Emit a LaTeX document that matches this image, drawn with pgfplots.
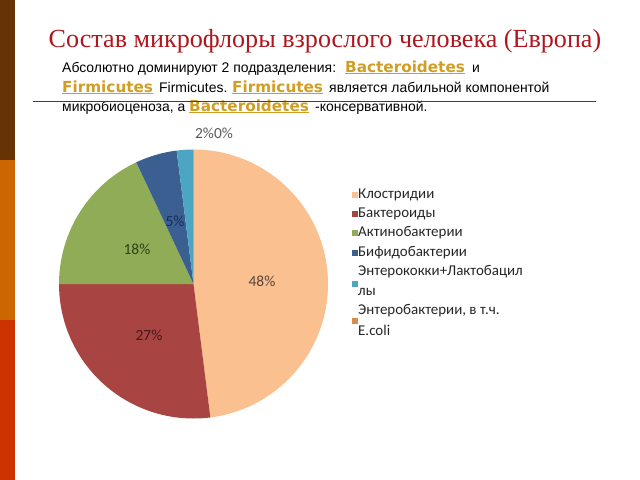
\documentclass[border=0pt]{standalone}
\usepackage{pgfplots}
\pgfplotsset{compat=1.18}
\usepackage{pgfplotstable}
\usepackage{fontspec}
\setmainfont{Carlito}
\newfontfamily\titlefont{Liberation Serif}
\newfontfamily\subfont{Liberation Sans}
\newfontfamily\goldfont{DejaVu Sans}
\definecolor{barbrown}{RGB}{102,52,4}
\definecolor{barorange}{RGB}{204,102,0}
\definecolor{barred}{RGB}{204,51,0}
\definecolor{titlered}{RGB}{176,22,30}
\definecolor{gold}{RGB}{208,158,36}
\definecolor{cA}{RGB}{250,192,144}
\definecolor{cB}{RGB}{168,68,66}
\definecolor{cC}{RGB}{144,172,86}
\definecolor{cD}{RGB}{60,95,145}
\definecolor{cE}{RGB}{75,165,195}
\definecolor{cF}{RGB}{215,140,80}
\pgfplotstableread{
value col
48 cA
27 cB
18 cC
5 cD
2 cE
0 cF
}\piedata
\newcommand{\gold}[1]{{\goldfont\bfseries\fontsize{15.3}{17}\selectfont\color{gold}\underline{#1}}}
\begin{document}
\begin{tikzpicture}
\useasboundingbox (0,0) rectangle (640bp,480bp);
\begin{axis}[at={(0,0)}, anchor=south west, width=640bp, height=480bp,
  scale only axis, xmin=0, xmax=640, ymin=0, ymax=480, y dir=reverse,
  hide axis, clip=false]
\fill[barbrown] (axis cs:0,0) rectangle (axis cs:15,160);
\fill[barorange] (axis cs:0,160) rectangle (axis cs:15,320);
\fill[barred] (axis cs:0,320) rectangle (axis cs:15,480);
% pie
\pgfplotsextra{
  \gdef\startang{90}
  \foreach \i in {0,...,5} {
    \pgfplotstablegetelem{\i}{value}\of\piedata \let\v\pgfplotsretval
    \pgfplotstablegetelem{\i}{col}\of\piedata \let\c\pgfplotsretval
    \pgfmathsetmacro\endang{\startang-3.6*\v}
    \fill[\c] (axis cs:193.5,284) -- ++(\startang:134.5bp)
      arc[start angle=\startang, end angle=\endang, radius=134.5bp] -- cycle;
    \global\let\startang\endang
  }
}
% title
\node[anchor=base, text=titlered, font=\titlefont\fontsize{26.2}{30}\selectfont]
  at (axis cs:325,47) {Состав микрофлоры взрослого человека (Европа)};
\begin{scope}[every node/.style={anchor=base west, inner sep=0pt, font=\subfont\fontsize{14}{16}\selectfont}]
\node at (axis cs:62,72) {Абсолютно доминируют 2 подразделения:};
\node at (axis cs:345,72) {\gold{Bacteroidetes}};
\node at (axis cs:472,72) {и};
\node at (axis cs:62,92) {\gold{Firmicutes}};
\node at (axis cs:159,92) {Firmicutes.};
\node at (axis cs:232,92) {\gold{Firmicutes}};
\node at (axis cs:329,92) {является лабильной компонентой};
\node at (axis cs:62,111) {микробиоценоза, а};
\node at (axis cs:189,111) {\gold{Bacteroidetes}};
\node at (axis cs:315,111) {-консервативной.};
\end{scope}
\draw[red!85!black, line width=0.9pt] (axis cs:33,101.5) -- (axis cs:596,101.5);
% slice labels
\begin{scope}[every node/.style={font=\fontsize{15.5}{18}\selectfont}]
\node[text={rgb,255:red,85;green,70;blue,60}] at (axis cs:262,281) {48\%};
\node[text={rgb,255:red,70;green,25;blue,25}] at (axis cs:149,335) {27\%};
\node[text={rgb,255:red,45;green,65;blue,25}] at (axis cs:137,249) {18\%};
\node[text={rgb,255:red,25;green,45;blue,90}] at (axis cs:175,221) {5\%};
\node[text={rgb,255:red,90;green,90;blue,90}] at (axis cs:214,133) {2\%0\%};
\end{scope}
% legend
\begin{scope}[every node/.style={anchor=west, inner sep=0pt, font=\fontsize{15}{18}\selectfont, text=black!85}]
\fill[cA] (axis cs:352,192.2) rectangle (axis cs:357.5,197.8);
\fill[cB] (axis cs:352,211.2) rectangle (axis cs:357.5,216.8);
\fill[cC] (axis cs:352,230.2) rectangle (axis cs:357.5,235.8);
\fill[cD] (axis cs:352,250.2) rectangle (axis cs:357.5,255.8);
\fill[cE] (axis cs:352,281.2) rectangle (axis cs:357.5,286.8);
\fill[cF] (axis cs:352,318.2) rectangle (axis cs:357.5,323.8);
\node at (axis cs:358,195) {Клостридии};
\node at (axis cs:358,214) {Бактероиды};
\node at (axis cs:358,233) {Актинобактерии};
\node at (axis cs:358,253) {Бифидобактерии};
\node at (axis cs:358,272) {Энтерококки+Лактобацил};
\node at (axis cs:358,292) {лы};
\node at (axis cs:358,311) {Энтеробактерии, в т.ч.};
\node at (axis cs:358,330) {E.coli};
\end{scope}
\end{axis}
\end{tikzpicture}
\end{document}
